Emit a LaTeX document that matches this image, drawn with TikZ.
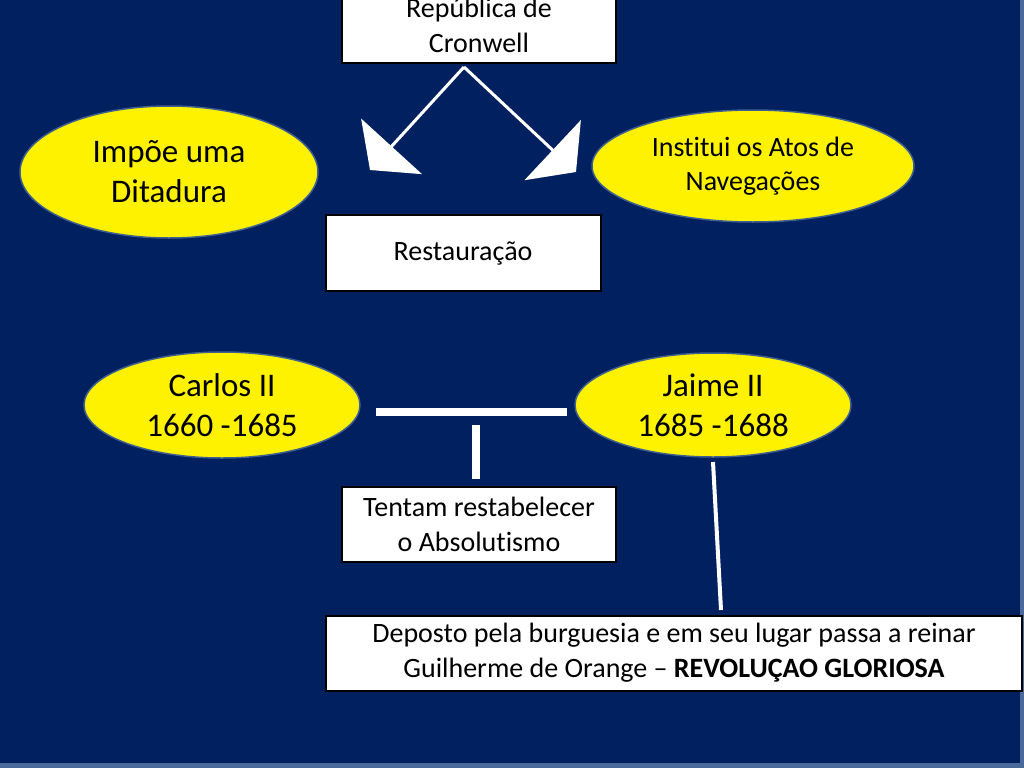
\documentclass[tikz,border=0pt]{standalone}
\usepackage{fontspec}
\setmainfont[Ligatures=CommonOff]{Carlito}
\usetikzlibrary{arrows.meta,positioning,shapes.geometric}
\definecolor{slidebg}{HTML}{002060}
\definecolor{slideedge}{HTML}{4A6A9C}
\definecolor{ovalline}{HTML}{3E6090}

\begin{document}
\begin{tikzpicture}[
      x=1pt, y=-1pt,
      box/.style={draw=black, line width=2pt, fill=white, minimum width=274pt, minimum height=76pt, align=center, font=\fontsize{28}{35}\selectfont},
      oval/.style={ellipse, draw=ovalline, line width=1.5pt, fill=yellow, inner sep=0pt, align=center, font=\fontsize{28}{34}\selectfont},
      big/.style={font=\fontsize{33}{40}\selectfont},
      link/.style={draw=white, line width=3pt, -{Triangle[length=32pt, width=82pt, fill=white]}},
      bar/.style={draw=white, line width=8pt}]
    % Background of the slide
    \useasboundingbox (0,0) rectangle (1024,768);
    \fill[slideedge] (0,0) rectangle (1024,768);
    \fill[slidebg] (0,0) rectangle (1020,763);
    % Top row
    \node[box] (rep) at (479,25) {República de\\Cronwell};
    \node[oval, big, minimum width=298pt, minimum height=132pt] (impoe) at (169,172) {Impõe uma\\Ditadura};
    \node[oval, minimum width=322pt, minimum height=112pt] (atos) at (753,166) {Institui os Atos de\\Navegações};
    \node[box, minimum width=275pt] (rest) at (463,253) {Restauração};
    % Arrows out of the republic
    \coordinate (apex) at (464,67);
    \coordinate (tipl) at (370,170);
    \coordinate (tipr) at (576,172);
    \draw[link] (apex) -- (tipl);
    \draw[link] (apex) -- (tipr);
    % Kings
    \node[oval, big, minimum width=276pt, minimum height=106pt] (carlos) at (222,405) {Carlos II\\1660 -1685};
    \node[oval, big, minimum width=276pt, minimum height=104pt] (jaime) at (713,405) {Jaime II\\1685 -1688};
    \node[box, minimum height=75pt] (tent) at (479,524) {Tentam restabelecer\\o Absolutismo};
    \node[box, minimum width=696pt, minimum height=75pt] (dep) at (674,653) {Deposto pela burguesia e em seu lugar passa a reinar\\Guilherme de Orange -- \textbf{REVOLUÇAO GLORIOSA}};
    % T-bar between the kings
    \coordinate (tl) at (376,412);
    \coordinate (tr) at (567,412);
    \coordinate (tt) at (476,425);
    \coordinate (tb) at (476,479);
    \draw[bar] (tl) -- (tr);
    \draw[bar] (tt) -- (tb);
    % Jaime II down to the last box
    \coordinate (jt) at (713,462);
    \coordinate (jb) at (721,610);
    \draw[draw=white, line width=4pt] (jt) -- (jb);
  \end{tikzpicture}
\end{document}
